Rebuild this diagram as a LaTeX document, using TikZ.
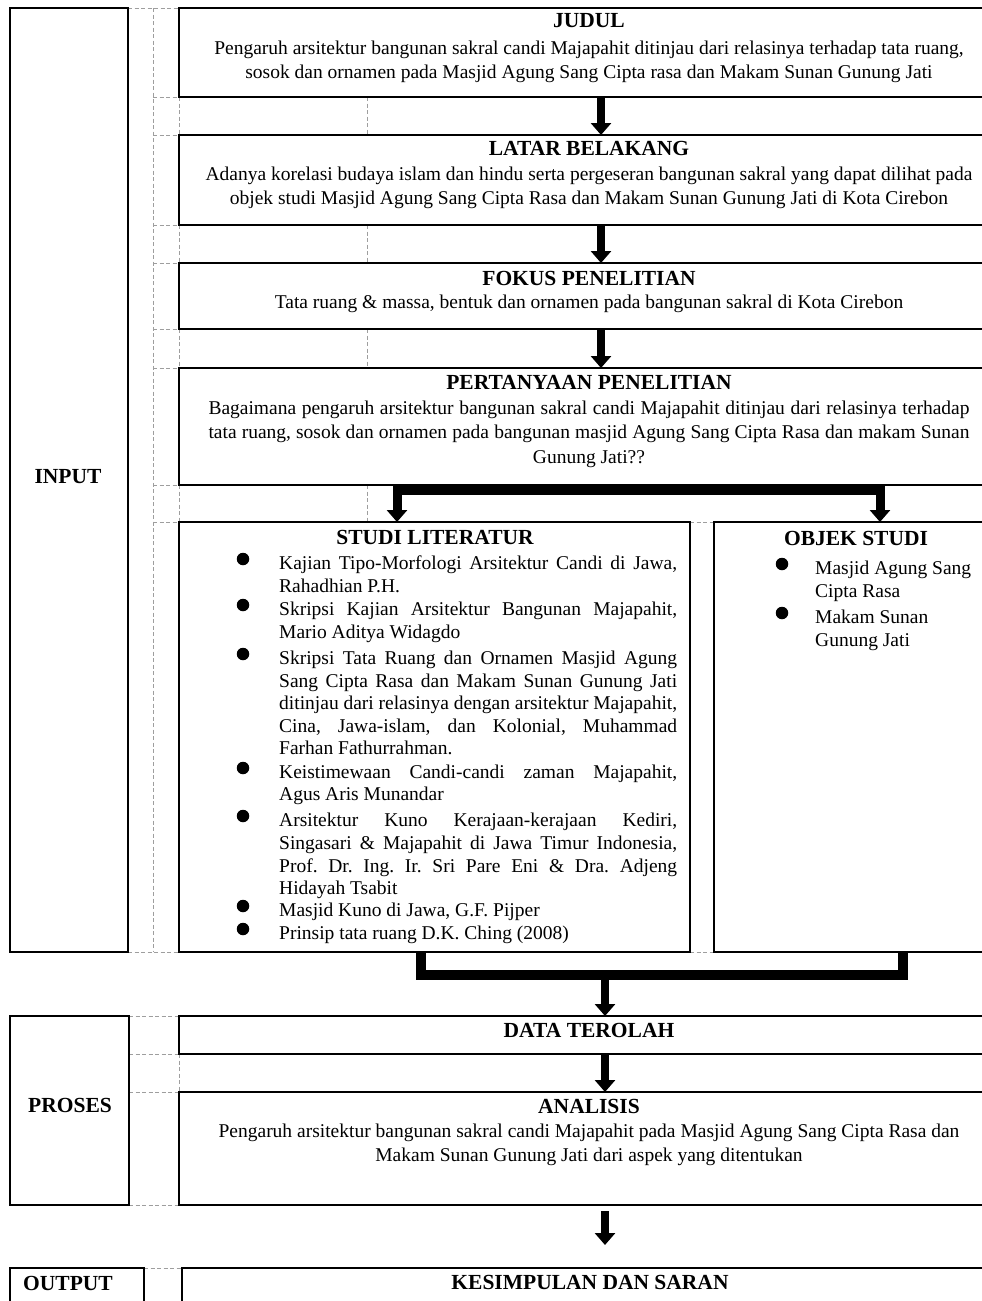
\documentclass[tikz,border=0pt]{standalone}
\usepackage{fontspec}
\setmainfont{Liberation Serif}
\usetikzlibrary{arrows.meta}
\frenchspacing
\tikzset{
  box/.style={draw, line width=1.8pt, rectangle, inner sep=0pt, outer sep=0pt, anchor=north west},
  grid/.style={draw=black!38, line width=0.9pt, dash pattern=on 4pt off 2.5pt},
  body/.style={inner sep=0pt, anchor=base, font=\fontsize{19.5}{24}\selectfont},
  bodyL/.style={body, anchor=base west},
  head/.style={inner sep=0pt, anchor=base, font=\fontsize{21.5}{26}\selectfont\bfseries},
  bigarrow/.style={line width=8pt, -{Triangle[length=12pt,width=20pt]}},
  bararrow/.style={line width=9pt, -{Triangle[length=12pt,width=20pt]}},
  bar/.style={line width=10pt},
  dot/.style={circle, fill, inner sep=0pt, minimum size=12.5pt},
}
\begin{document}
\begin{tikzpicture}[x=1pt,y=-1pt]
\clip (0,0) rectangle (982,1301);
\fill[white] (0,0) rectangle (982,1301);

% ---------- gray gridlines ----------
\draw[grid] (153,8) -- (153,952);
\draw[grid] (128,8) -- (179,8);
\foreach \yy in {97,135,225,263,329,368,485,522} {\draw[grid] (153,\yy) -- (179,\yy);}
\draw[grid] (128,952) -- (179,952);
\foreach \ya/\yb in {97/135,225/263,329/368,485/522} {
  \draw[grid] (179,\ya) -- (179,\yb);
  \draw[grid] (367,\ya) -- (367,\yb);
}
\draw[grid] (690,522) -- (714,522);
\draw[grid] (690,952) -- (714,952);
\foreach \yy in {1016,1054,1092,1205} {\draw[grid] (129,\yy) -- (179,\yy);}
\draw[grid] (179,1054) -- (179,1092);
\draw[grid] (144,1268) -- (182,1268);

% ---------- boxes ----------
\node[box, minimum width=118pt, minimum height=944pt] (input) at (10,8) {};
\node[box, minimum width=819pt, minimum height=89pt] (judul) at (179,8) {};
\node[box, minimum width=819pt, minimum height=90pt] (latar) at (179,135) {};
\node[box, minimum width=819pt, minimum height=66pt] (fokus) at (179,263) {};
\node[box, minimum width=819pt, minimum height=117pt] (pert) at (179,368) {};
\node[box, minimum width=511pt, minimum height=430pt] (studi) at (179,522) {};
\node[box, minimum width=284pt, minimum height=430pt] (objek) at (714,522) {};
\node[box, minimum width=119pt, minimum height=189pt] (proses) at (10,1016) {};
\node[box, minimum width=819pt, minimum height=38pt] (data) at (179,1016) {};
\node[box, minimum width=819pt, minimum height=113pt] (analisis) at (179,1092) {};
\node[box, minimum width=134pt, minimum height=52pt] (output) at (10,1268) {};
\node[box, minimum width=816pt, minimum height=52pt] (kesimpulan) at (182,1268) {};

% ---------- side labels ----------
\node[head] (inputL) at (68,483) {INPUT};
\node[head] (prosesL) at (70,1112) {PROSES};
\node[head, anchor=base west] (outputL) at (23,1290) {OUTPUT};

% ---------- JUDUL ----------
\node[head] (judulT) at (589,27) {JUDUL};
\node[body] (judul1) at (589,54) {Pengaruh arsitektur bangunan sakral candi Majapahit ditinjau dari relasinya terhadap tata ruang,};
\node[body] (judul2) at (589,78) {sosok dan ornamen pada Masjid Agung Sang Cipta rasa dan Makam Sunan Gunung Jati};

% ---------- LATAR BELAKANG ----------
\node[head] (latarT) at (589,155) {LATAR BELAKANG};
\node[body] (latar1) at (589,180) {Adanya korelasi budaya islam dan hindu serta pergeseran bangunan sakral yang dapat dilihat pada};
\node[body] (latar2) at (589,204) {objek studi Masjid Agung Sang Cipta Rasa dan Makam Sunan Gunung Jati di Kota Cirebon};

% ---------- FOKUS ----------
\node[head] (fokusT) at (589,285) {FOKUS PENELITIAN};
\node[body] (fokus1) at (589,308) {Tata ruang \& massa, bentuk dan ornamen pada bangunan sakral di Kota Cirebon};

% ---------- PERTANYAAN ----------
\node[head] (pertT) at (589,389) {PERTANYAAN PENELITIAN};
\node[body] (pert1) at (589,414) {\makebox[761pt][s]{Bagaimana pengaruh arsitektur bangunan sakral candi Majapahit ditinjau dari relasinya terhadap}};
\node[body] (pert2) at (589,438) {\makebox[761pt][s]{tata ruang, sosok dan ornamen pada bangunan masjid Agung Sang Cipta Rasa dan makam Sunan}};
\node[body] (pert3) at (589,463) {Gunung Jati??};

% ---------- STUDI LITERATUR ----------
\node[head] (studiT) at (435,544) {STUDI LITERATUR};
\node[dot] (sb1) at (243,559) {};
\node[bodyL] (s1a) at (279,569) {\makebox[398pt][s]{Kajian Tipo-Morfologi Arsitektur Candi di Jawa,}};
\node[bodyL] (s1b) at (279,592) {Rahadhian P.H.};
\node[dot] (sb2) at (243,605) {};
\node[bodyL] (s2a) at (279,615) {\makebox[398pt][s]{Skripsi Kajian Arsitektur Bangunan Majapahit,}};
\node[bodyL] (s2b) at (279,638) {Mario Aditya Widagdo};
\node[dot] (sb3) at (243,654) {};
\node[bodyL] (s3a) at (279,664) {\makebox[398pt][s]{Skripsi Tata Ruang dan Ornamen Masjid Agung}};
\node[bodyL] (s3b) at (279,687) {\makebox[398pt][s]{Sang Cipta Rasa dan Makam Sunan Gunung Jati}};
\node[bodyL] (s3c) at (279,709) {\makebox[398pt][s]{ditinjau dari relasinya dengan arsitektur Majapahit,}};
\node[bodyL] (s3d) at (279,732) {\makebox[398pt][s]{Cina, Jawa-islam, dan Kolonial, Muhammad}};
\node[bodyL] (s3e) at (279,754) {Farhan Fathurrahman.};
\node[dot] (sb4) at (243,768) {};
\node[bodyL] (s4a) at (279,778) {\makebox[398pt][s]{Keistimewaan Candi-candi zaman Majapahit,}};
\node[bodyL] (s4b) at (279,800) {Agus Aris Munandar};
\node[dot] (sb5) at (243,816) {};
\node[bodyL] (s5a) at (279,826) {\makebox[398pt][s]{Arsitektur Kuno Kerajaan-kerajaan Kediri,}};
\node[bodyL] (s5b) at (279,849) {\makebox[398pt][s]{Singasari \& Majapahit di Jawa Timur Indonesia,}};
\node[bodyL] (s5c) at (279,872) {\makebox[398pt][s]{Prof. Dr. Ing. Ir. Sri Pare Eni \& Dra. Adjeng}};
\node[bodyL] (s5d) at (279,894) {Hidayah Tsabit};
\node[dot] (sb6) at (243,906) {};
\node[bodyL] (s6a) at (279,916) {Masjid Kuno di Jawa, G.F. Pijper};
\node[dot] (sb7) at (243,929) {};
\node[bodyL] (s7a) at (279,939) {Prinsip tata ruang D.K. Ching (2008)};

% ---------- OBJEK STUDI ----------
\node[head] (objekT) at (856,545) {OBJEK STUDI};
\node[dot] (ob1) at (782,564) {};
\node[bodyL] (o1a) at (815,574) {Masjid Agung Sang};
\node[bodyL] (o1b) at (815,597) {Cipta Rasa};
\node[dot] (ob2) at (782,613) {};
\node[bodyL] (o2a) at (815,623) {Makam Sunan};
\node[bodyL] (o2b) at (815,646) {Gunung Jati};

% ---------- PROSES ----------
\node[head] (dataT) at (589,1037) {DATA TEROLAH};
\node[head] (anaT) at (589,1113) {ANALISIS};
\node[body] (ana1) at (589,1137) {Pengaruh arsitektur bangunan sakral candi Majapahit pada Masjid Agung Sang Cipta Rasa dan};
\node[body] (ana2) at (589,1161) {Makam Sunan Gunung Jati dari aspek yang ditentukan};

% ---------- OUTPUT ----------
\node[head] (kesT) at (590,1289) {KESIMPULAN DAN SARAN};

% ---------- arrows ----------
\coordinate (xa) at (601,0);
\draw[bigarrow] (judul.south -| xa) -- (latar.north -| xa);
\draw[bigarrow] (latar.south -| xa) -- (fokus.north -| xa);
\draw[bigarrow] (fokus.south -| xa) -- (pert.north -| xa);

\coordinate (br) at (601,490);
\coordinate (xl) at (397,0);
\coordinate (xr) at (880,0);
\draw[bararrow] (br) -| (studi.north -| xl);
\draw[bararrow] (br) -| (objek.north -| xr);

\coordinate (ml) at (421,975);
\coordinate (mr) at (903,975);
\coordinate (mc) at (605,975);
\draw[bar] (studi.south -| ml) -- (ml) -- (mr) -- (objek.south -| mr);
\draw[bigarrow] (mc) -- (data.north -| mc);

\coordinate (xb) at (605,0);
\draw[bigarrow] (data.south -| xb) -- (analisis.north -| xb);
\coordinate (a5s) at (605,1211);
\coordinate (a5e) at (605,1245);
\draw[bigarrow] (a5s) -- (a5e);
\end{tikzpicture}
\end{document}
